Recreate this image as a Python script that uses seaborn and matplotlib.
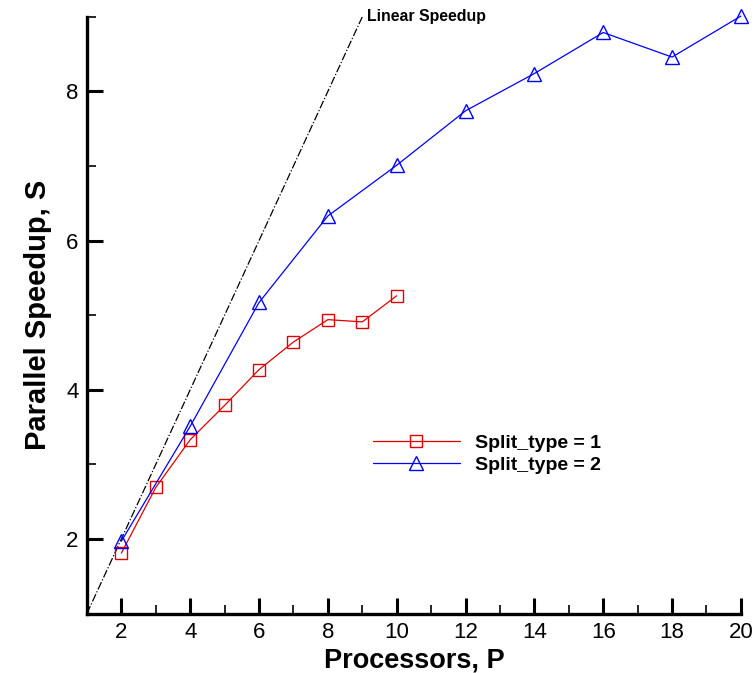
import numpy as np
import pandas as pd
import matplotlib
matplotlib.use('Agg')
import matplotlib.pyplot as plt
from matplotlib.ticker import MultipleLocator
import seaborn as sns

# values
procs1 = [2, 3, 4, 5, 6, 7, 8, 9, 10]
speedup1 = [1.81, 2.69, 3.33, 3.79, 4.27, 4.64, 4.94, 4.91, 5.26]
procs2 = [2, 4, 6, 8, 10, 12, 14, 16, 18, 20]
speedup2 = [1.97, 3.51, 5.17, 6.33, 7.01, 7.74, 8.24, 8.79, 8.46, 9.01]
linear_p = [1, 9]
linear_s = [1, 9]
labels = ['Split_type = 1', 'Split_type = 2']

sns.set_style('ticks')
plt.rcParams['font.family'] = ['Liberation Sans', 'DejaVu Sans']
for key in ['text.color', 'axes.labelcolor', 'xtick.color', 'ytick.color', 'axes.edgecolor']:
    plt.rcParams[key] = 'black'

df1 = pd.DataFrame({'P': procs1, 'S': speedup1})
df2 = pd.DataFrame({'P': procs2, 'S': speedup2})

fig = plt.figure(figsize=(7.56, 6.73), dpi=100)
ax = fig.add_axes([0.115, 0.0884, 0.865, 0.8866])

ax.plot(linear_p, linear_s, color='black', linestyle='-.', linewidth=0.9)

sns.lineplot(data=df1, x='P', y='S', ax=ax, color='#e00000', marker='s',
             markersize=9, markerfacecolor='none', markeredgecolor='#e00000',
             markeredgewidth=1.0, linewidth=0.9, label=labels[0], clip_on=False)
sns.lineplot(data=df2, x='P', y='S', ax=ax, color='#0000ff', marker='^',
             markersize=10, markerfacecolor='none', markeredgecolor='#0000ff',
             markeredgewidth=1.0, linewidth=0.9, label=labels[1], clip_on=False)

ax.text(9.13, 9.0, 'Linear Speedup', fontsize=11.4, fontweight='bold',
        ha='left', va='center')

ax.set_xlim(1, 20)
ax.set_ylim(1, 9)
ax.xaxis.set_major_locator(MultipleLocator(2))
ax.xaxis.set_minor_locator(MultipleLocator(1))
ax.yaxis.set_major_locator(MultipleLocator(2))
ax.yaxis.set_minor_locator(MultipleLocator(1))
ax.tick_params(which='major', direction='in', length=11.5, width=2.2,
               labelsize=16, pad=6)
ax.tick_params(which='minor', direction='in', length=6.5, width=1.2)

for side in ['top', 'right']:
    ax.spines[side].set_visible(False)
for side in ['left', 'bottom']:
    ax.spines[side].set_linewidth(2.4)

ax.set_xlabel('Processors, P', fontsize=19.5, fontweight='bold', labelpad=3)
ax.set_ylabel('Parallel Speedup, S', fontsize=21, fontweight='bold', labelpad=10)

ax.legend(loc='upper left', bbox_to_anchor=(0.437, 0.30), frameon=False,
          handlelength=4.5, handletextpad=0.75, labelspacing=0.2,
          borderpad=0, borderaxespad=0, numpoints=1,
          prop={'weight': 'bold', 'size': 14})

fig.savefig('out.png', dpi=100)
